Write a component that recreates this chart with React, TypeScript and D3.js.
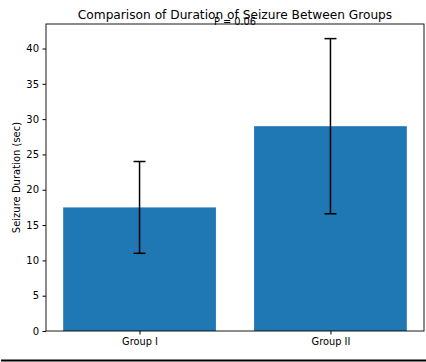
import React, { useRef, useEffect } from "react";
import * as d3 from "d3";

const groups = ["Group I", "Group II"];
const means = [17.5, 29.0];
const errors = [6.5, 12.4];
const yTicks = [0, 5, 10, 15, 20, 25, 30, 35, 40];
const pLabel = "P = 0.06";

const W = 426;
const H = 362;
const margin = { left: 46, right: 2, top: 24, bottom: 31 };
const font = "DejaVu Sans, sans-serif";

export default function App() {
  const svgRef = useRef<SVGSVGElement>(null);

  useEffect(() => {
    const svg = d3.select(svgRef.current);
    svg.selectAll("*").remove();

    const x0 = margin.left;
    const x1 = W - margin.right;
    const y0 = H - margin.bottom;
    const y1 = margin.top;

    // matplotlib-style: bars of width 0.8 at 0,1, 5% margins
    const x = d3.scaleLinear().domain([-0.49, 1.49]).range([x0, x1]);
    const yMax = d3.max(means.map((m, i) => m + errors[i]))! * 1.05;
    const y = d3.scaleLinear().domain([0, yMax]).range([y0, y1]);

    const g = svg.append("g");

    // bars
    g.selectAll("rect.bar")
      .data(means)
      .join("rect")
      .attr("class", "bar")
      .attr("x", (_, i) => x(i - 0.4))
      .attr("width", x(0.4) - x(-0.4))
      .attr("y", (d) => y(d))
      .attr("height", (d) => y(0) - y(d))
      .attr("fill", "#1f77b4");

    // error bars
    const eb = g.selectAll("g.err").data(means).join("g").attr("class", "err");
    eb.append("line")
      .attr("x1", (_, i) => x(i))
      .attr("x2", (_, i) => x(i))
      .attr("y1", (d, i) => y(d - errors[i]))
      .attr("y2", (d, i) => y(d + errors[i]))
      .attr("stroke", "#000")
      .attr("stroke-width", 1.5);
    [-1, 1].forEach((s) => {
      eb.append("line")
        .attr("x1", (_, i) => x(i) - 6)
        .attr("x2", (_, i) => x(i) + 6)
        .attr("y1", (d, i) => y(d + s * errors[i]))
        .attr("y2", (d, i) => y(d + s * errors[i]))
        .attr("stroke", "#000")
        .attr("stroke-width", 1.5);
    });

    // axes frame
    g.append("rect")
      .attr("x", x0)
      .attr("y", y1)
      .attr("width", x1 - x0)
      .attr("height", y0 - y1)
      .attr("fill", "none")
      .attr("stroke", "#000")
      .attr("stroke-width", 0.9);

    // y axis
    const yAxis = g
      .append("g")
      .attr("transform", `translate(${x0},0)`)
      .call(d3.axisLeft(y).tickValues(yTicks).tickSize(3.5).tickPadding(3.5));
    yAxis.select(".domain").remove();
    yAxis.selectAll("text").attr("font-family", font).attr("font-size", 10).attr("fill", "#000");

    // x axis
    const xAxis = g
      .append("g")
      .attr("transform", `translate(0,${y0})`)
      .call(
        d3
          .axisBottom(x)
          .tickValues([0, 1])
          .tickFormat((d) => groups[d as number])
          .tickSize(3.5)
          .tickPadding(3.5)
      );
    xAxis.select(".domain").remove();
    xAxis.selectAll("text").attr("font-family", font).attr("font-size", 9.8).attr("fill", "#000");

    // title (the P label overlaps it, as in the original)
    svg
      .append("text")
      .attr("x", (x0 + x1) / 2)
      .attr("y", 19)
      .attr("text-anchor", "middle")
      .attr("font-family", font)
      .attr("font-size", 12.2)
      .text("Comparison of Duration of Seizure Between Groups");

    // p-value
    svg
      .append("text")
      .attr("x", (x0 + x1) / 2)
      .attr("y", 25)
      .attr("text-anchor", "middle")
      .attr("font-family", font)
      .attr("font-size", 9.8)
      .text(pLabel);

    // y label
    svg
      .append("text")
      .attr("transform", `translate(20,${(y0 + y1) / 2}) rotate(-90)`)
      .attr("text-anchor", "middle")
      .attr("font-family", font)
      .attr("font-size", 10)
      .text("Seizure Duration (sec)");

    // bottom rule
    svg
      .append("line")
      .attr("x1", 1)
      .attr("x2", W)
      .attr("y1", 360.5)
      .attr("y2", 360.5)
      .attr("stroke", "#000")
      .attr("stroke-width", 2);
  }, []);

  return (
    <svg
      ref={svgRef}
      width={W}
      height={H}
      style={{ position: "absolute", left: 0, top: 0, background: "#fff" }}
    />
  );
}
